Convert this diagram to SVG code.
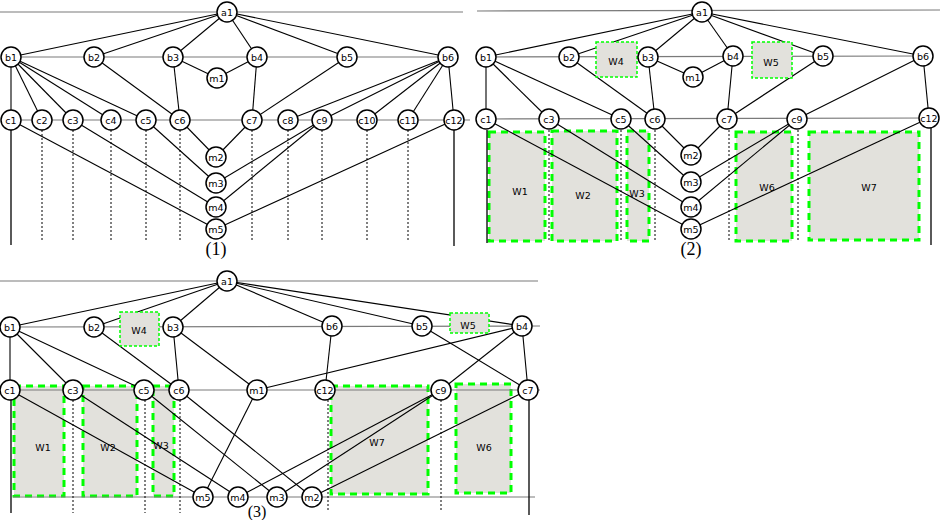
<svg xmlns="http://www.w3.org/2000/svg" width="941" height="520" viewBox="0 0 941 520">
<defs>
<style>
.bg{fill:#ffffff}
.hl{stroke:#7a7a7a;stroke-width:1.2;fill:none}
.e{stroke:#000;stroke-width:1.1;fill:none}
.v{stroke:#000;stroke-width:1.3;fill:none}
.d{stroke:#000;stroke-width:1;stroke-dasharray:2,2;fill:none}
.n circle{fill:#fff;stroke:#000;stroke-width:1.5}
.n text{font-family:"DejaVu Sans",sans-serif;font-size:9.5px;text-anchor:middle;dominant-baseline:central;fill:#000}
.w rect{fill:#e2e1dc;stroke:#00ff00}
.wb rect{stroke-width:3;stroke-dasharray:7,5}
.ws rect{stroke-width:1.5;stroke-dasharray:3,2}
.w text{font-family:"DejaVu Sans",sans-serif;font-size:9.5px;text-anchor:middle;dominant-baseline:central;fill:#000}
.lab{font-family:"Liberation Serif",serif;font-size:18px;text-anchor:middle;fill:#000}
</style>
</defs>
<rect class="bg" x="0" y="0" width="941" height="520"/>

<!-- ================= Panel 1 ================= -->
<g id="p1-connectors">
<line class="hl" x1="0" y1="12" x2="463" y2="12"/>
<line class="hl" x1="11" y1="57" x2="448" y2="57"/>
<line class="hl" x1="11" y1="120" x2="470" y2="120"/>
<line class="v" x1="11" y1="130" x2="11" y2="245"/>
<line class="v" x1="454" y1="130" x2="454" y2="246"/>
<line class="d" x1="42" y1="130" x2="42" y2="242"/>
<line class="d" x1="73" y1="130" x2="73" y2="242"/>
<line class="d" x1="111" y1="130" x2="111" y2="242"/>
<line class="d" x1="146" y1="130" x2="146" y2="242"/>
<line class="d" x1="180" y1="130" x2="180" y2="242"/>
<line class="d" x1="252" y1="130" x2="252" y2="242"/>
<line class="d" x1="288" y1="130" x2="288" y2="242"/>
<line class="d" x1="322" y1="130" x2="322" y2="242"/>
<line class="d" x1="367" y1="130" x2="367" y2="242"/>
<line class="d" x1="408" y1="130" x2="408" y2="242"/>
<line class="e" x1="227" y1="12" x2="11" y2="57"/>
<line class="e" x1="227" y1="12" x2="94" y2="57"/>
<line class="e" x1="227" y1="12" x2="173" y2="57"/>
<line class="e" x1="227" y1="12" x2="257" y2="57"/>
<line class="e" x1="227" y1="12" x2="347" y2="57"/>
<line class="e" x1="227" y1="12" x2="448" y2="57"/>
<line class="e" x1="11" y1="57" x2="11" y2="120"/>
<line class="e" x1="11" y1="57" x2="42" y2="120"/>
<line class="e" x1="11" y1="57" x2="73" y2="120"/>
<line class="e" x1="11" y1="57" x2="111" y2="120"/>
<line class="e" x1="11" y1="57" x2="146" y2="120"/>
<line class="e" x1="94" y1="57" x2="180" y2="120"/>
<line class="e" x1="173" y1="57" x2="180" y2="120"/>
<line class="e" x1="173" y1="57" x2="217" y2="78"/>
<line class="e" x1="257" y1="57" x2="217" y2="78"/>
<line class="e" x1="257" y1="57" x2="252" y2="120"/>
<line class="e" x1="347" y1="57" x2="252" y2="120"/>
<line class="e" x1="448" y1="57" x2="288" y2="120"/>
<line class="e" x1="448" y1="57" x2="322" y2="120"/>
<line class="e" x1="448" y1="57" x2="367" y2="120"/>
<line class="e" x1="448" y1="57" x2="408" y2="120"/>
<line class="e" x1="448" y1="57" x2="454" y2="120"/>
<line class="e" x1="180" y1="120" x2="216" y2="157"/>
<line class="e" x1="252" y1="120" x2="216" y2="157"/>
<line class="e" x1="146" y1="120" x2="216" y2="183"/>
<line class="e" x1="322" y1="120" x2="216" y2="183"/>
<line class="e" x1="73" y1="120" x2="216" y2="207"/>
<line class="e" x1="322" y1="120" x2="216" y2="207"/>
<line class="e" x1="11" y1="120" x2="216" y2="229"/>
<line class="e" x1="454" y1="120" x2="216" y2="229"/>
</g>
<g id="p1-a1" class="n"><circle cx="227" cy="12" r="10"/><text x="227" y="12">a1</text></g>
<g id="p1-b1" class="n"><circle cx="11" cy="57" r="10"/><text x="11" y="57">b1</text></g>
<g id="p1-b2" class="n"><circle cx="94" cy="57" r="10"/><text x="94" y="57">b2</text></g>
<g id="p1-b3" class="n"><circle cx="173" cy="57" r="10"/><text x="173" y="57">b3</text></g>
<g id="p1-b4" class="n"><circle cx="257" cy="57" r="10"/><text x="257" y="57">b4</text></g>
<g id="p1-b5" class="n"><circle cx="347" cy="57" r="10"/><text x="347" y="57">b5</text></g>
<g id="p1-b6" class="n"><circle cx="448" cy="57" r="10"/><text x="448" y="57">b6</text></g>
<g id="p1-m1" class="n"><circle cx="217" cy="78" r="10"/><text x="217" y="78">m1</text></g>
<g id="p1-c1" class="n"><circle cx="11" cy="120" r="10"/><text x="11" y="120">c1</text></g>
<g id="p1-c2" class="n"><circle cx="42" cy="120" r="10"/><text x="42" y="120">c2</text></g>
<g id="p1-c3" class="n"><circle cx="73" cy="120" r="10"/><text x="73" y="120">c3</text></g>
<g id="p1-c4" class="n"><circle cx="111" cy="120" r="10"/><text x="111" y="120">c4</text></g>
<g id="p1-c5" class="n"><circle cx="146" cy="120" r="10"/><text x="146" y="120">c5</text></g>
<g id="p1-c6" class="n"><circle cx="180" cy="120" r="10"/><text x="180" y="120">c6</text></g>
<g id="p1-c7" class="n"><circle cx="252" cy="120" r="10"/><text x="252" y="120">c7</text></g>
<g id="p1-c8" class="n"><circle cx="288" cy="120" r="10"/><text x="288" y="120">c8</text></g>
<g id="p1-c9" class="n"><circle cx="322" cy="120" r="10"/><text x="322" y="120">c9</text></g>
<g id="p1-c10" class="n"><circle cx="367" cy="120" r="10"/><text x="367" y="120">c10</text></g>
<g id="p1-c11" class="n"><circle cx="408" cy="120" r="10"/><text x="408" y="120">c11</text></g>
<g id="p1-c12" class="n"><circle cx="454" cy="120" r="10"/><text x="454" y="120">c12</text></g>
<g id="p1-m2" class="n"><circle cx="216" cy="157" r="10"/><text x="216" y="157">m2</text></g>
<g id="p1-m3" class="n"><circle cx="216" cy="183" r="10"/><text x="216" y="183">m3</text></g>
<g id="p1-m4" class="n"><circle cx="216" cy="207" r="10"/><text x="216" y="207">m4</text></g>
<g id="p1-m5" class="n"><circle cx="216" cy="229" r="10"/><text x="216" y="229">m5</text></g>
<text class="lab" x="216" y="255">(1)</text>

<!-- ================= Panel 2 ================= -->
<g id="p2-W1" class="w wb"><rect x="489" y="132" width="56" height="109"/><text x="520" y="191">W1</text></g>
<g id="p2-W2" class="w wb"><rect x="552" y="131" width="65" height="110"/><text x="583" y="195">W2</text></g>
<g id="p2-W3" class="w wb"><rect x="627" y="131" width="22" height="110"/><text x="637" y="193">W3</text></g>
<g id="p2-W6" class="w wb"><rect x="736" y="132" width="56" height="109"/><text x="767" y="187">W6</text></g>
<g id="p2-W7" class="w wb"><rect x="809" y="132" width="110" height="108"/><text x="869" y="187">W7</text></g>
<g id="p2-connectors">
<line class="hl" x1="477" y1="11" x2="940" y2="10"/>
<line class="hl" x1="486" y1="57" x2="923" y2="56"/>
<line class="hl" x1="486" y1="119" x2="935" y2="118"/>
<line class="v" x1="487" y1="130" x2="487" y2="243"/>
<line class="v" x1="931" y1="128" x2="931" y2="245"/>
<line class="d" x1="549" y1="130" x2="549" y2="240"/>
<line class="d" x1="621" y1="130" x2="621" y2="240"/>
<line class="d" x1="655" y1="130" x2="655" y2="240"/>
<line class="d" x1="729" y1="130" x2="729" y2="240"/>
<line class="d" x1="798" y1="130" x2="798" y2="240"/>
<line class="e" x1="702" y1="12" x2="486" y2="57"/>
<line class="e" x1="702" y1="12" x2="569" y2="57"/>
<line class="e" x1="702" y1="12" x2="648" y2="57"/>
<line class="e" x1="702" y1="12" x2="733" y2="56"/>
<line class="e" x1="702" y1="12" x2="823" y2="56"/>
<line class="e" x1="702" y1="12" x2="923" y2="56"/>
<line class="e" x1="486" y1="57" x2="486" y2="119"/>
<line class="e" x1="486" y1="57" x2="549" y2="119"/>
<line class="e" x1="486" y1="57" x2="621" y2="119"/>
<line class="e" x1="569" y1="57" x2="655" y2="119"/>
<line class="e" x1="648" y1="57" x2="655" y2="119"/>
<line class="e" x1="648" y1="57" x2="693" y2="77"/>
<line class="e" x1="733" y1="56" x2="693" y2="77"/>
<line class="e" x1="733" y1="56" x2="727" y2="119"/>
<line class="e" x1="823" y1="56" x2="727" y2="119"/>
<line class="e" x1="923" y1="56" x2="797" y2="119"/>
<line class="e" x1="923" y1="56" x2="929" y2="118"/>
<line class="e" x1="655" y1="119" x2="691" y2="155"/>
<line class="e" x1="727" y1="119" x2="691" y2="155"/>
<line class="e" x1="621" y1="119" x2="691" y2="182"/>
<line class="e" x1="797" y1="119" x2="691" y2="182"/>
<line class="e" x1="549" y1="119" x2="691" y2="207"/>
<line class="e" x1="797" y1="119" x2="691" y2="207"/>
<line class="e" x1="486" y1="119" x2="691" y2="229"/>
<line class="e" x1="929" y1="118" x2="691" y2="229"/>
</g>
<g id="p2-W4" class="w ws"><rect x="596" y="42" width="41" height="35"/><text x="616" y="61">W4</text></g>
<g id="p2-W5" class="w ws"><rect x="752" y="42" width="40" height="36"/><text x="771" y="62">W5</text></g>
<g id="p2-a1" class="n"><circle cx="702" cy="12" r="10"/><text x="702" y="12">a1</text></g>
<g id="p2-b1" class="n"><circle cx="486" cy="57" r="10"/><text x="486" y="57">b1</text></g>
<g id="p2-b2" class="n"><circle cx="569" cy="57" r="10"/><text x="569" y="57">b2</text></g>
<g id="p2-b3" class="n"><circle cx="648" cy="57" r="10"/><text x="648" y="57">b3</text></g>
<g id="p2-b4" class="n"><circle cx="733" cy="56" r="10"/><text x="733" y="56">b4</text></g>
<g id="p2-b5" class="n"><circle cx="823" cy="56" r="10"/><text x="823" y="56">b5</text></g>
<g id="p2-b6" class="n"><circle cx="923" cy="56" r="10"/><text x="923" y="56">b6</text></g>
<g id="p2-m1" class="n"><circle cx="693" cy="77" r="10"/><text x="693" y="77">m1</text></g>
<g id="p2-c1" class="n"><circle cx="486" cy="119" r="10"/><text x="486" y="119">c1</text></g>
<g id="p2-c3" class="n"><circle cx="549" cy="119" r="10"/><text x="549" y="119">c3</text></g>
<g id="p2-c5" class="n"><circle cx="621" cy="119" r="10"/><text x="621" y="119">c5</text></g>
<g id="p2-c6" class="n"><circle cx="655" cy="119" r="10"/><text x="655" y="119">c6</text></g>
<g id="p2-c7" class="n"><circle cx="727" cy="119" r="10"/><text x="727" y="119">c7</text></g>
<g id="p2-c9" class="n"><circle cx="797" cy="119" r="10"/><text x="797" y="119">c9</text></g>
<g id="p2-c12" class="n"><circle cx="929" cy="118" r="10"/><text x="929" y="118">c12</text></g>
<g id="p2-m2" class="n"><circle cx="691" cy="155" r="10"/><text x="691" y="155">m2</text></g>
<g id="p2-m3" class="n"><circle cx="691" cy="182" r="10"/><text x="691" y="182">m3</text></g>
<g id="p2-m4" class="n"><circle cx="691" cy="207" r="10"/><text x="691" y="207">m4</text></g>
<g id="p2-m5" class="n"><circle cx="691" cy="229" r="10"/><text x="691" y="229">m5</text></g>
<text class="lab" x="691" y="255">(2)</text>

<!-- ================= Panel 3 ================= -->
<g id="p3-W1" class="w wb"><rect x="14" y="386" width="50" height="110"/><text x="43" y="447">W1</text></g>
<g id="p3-W2" class="w wb"><rect x="83" y="386" width="54" height="110"/><text x="108" y="447">W2</text></g>
<g id="p3-W3" class="w wb"><rect x="153" y="386" width="21" height="110"/><text x="161" y="445">W3</text></g>
<g id="p3-W7" class="w wb"><rect x="331" y="386" width="97" height="108"/><text x="377" y="442">W7</text></g>
<g id="p3-W6" class="w wb"><rect x="456" y="384" width="55" height="109"/><text x="484" y="447">W6</text></g>
<g id="p3-connectors">
<line class="hl" x1="0" y1="281" x2="538" y2="281"/>
<line class="hl" x1="10" y1="327" x2="540" y2="326"/>
<line class="hl" x1="10" y1="390" x2="540" y2="390"/>
<line class="hl" x1="13" y1="497" x2="535" y2="497"/>
<line class="v" x1="11" y1="400" x2="11" y2="513"/>
<line class="v" x1="529" y1="400" x2="529" y2="515"/>
<line class="d" x1="73" y1="400" x2="73" y2="513"/>
<line class="d" x1="145" y1="400" x2="145" y2="513"/>
<line class="d" x1="180" y1="400" x2="180" y2="513"/>
<line class="d" x1="328" y1="400" x2="328" y2="510"/>
<line class="d" x1="441" y1="400" x2="441" y2="510"/>
<line class="e" x1="227" y1="281" x2="10" y2="327"/>
<line class="e" x1="227" y1="281" x2="94" y2="327"/>
<line class="e" x1="227" y1="281" x2="173" y2="327"/>
<line class="e" x1="227" y1="281" x2="332" y2="326"/>
<line class="e" x1="227" y1="281" x2="422" y2="326"/>
<line class="e" x1="227" y1="281" x2="522" y2="326"/>
<line class="e" x1="10" y1="327" x2="10" y2="390"/>
<line class="e" x1="10" y1="327" x2="73" y2="390"/>
<line class="e" x1="10" y1="327" x2="144" y2="390"/>
<line class="e" x1="94" y1="327" x2="179" y2="390"/>
<line class="e" x1="173" y1="327" x2="179" y2="390"/>
<line class="e" x1="173" y1="327" x2="257" y2="390"/>
<line class="e" x1="332" y1="326" x2="325" y2="390"/>
<line class="e" x1="522" y1="326" x2="257" y2="390"/>
<line class="e" x1="522" y1="326" x2="441" y2="390"/>
<line class="e" x1="522" y1="326" x2="528" y2="390"/>
<line class="e" x1="422" y1="326" x2="528" y2="390"/>
<line class="e" x1="10" y1="390" x2="203" y2="497"/>
<line class="e" x1="73" y1="390" x2="238" y2="497"/>
<line class="e" x1="144" y1="390" x2="277" y2="497"/>
<line class="e" x1="179" y1="390" x2="312" y2="497"/>
<line class="e" x1="257" y1="390" x2="203" y2="497"/>
<line class="e" x1="441" y1="390" x2="238" y2="497"/>
<line class="e" x1="441" y1="390" x2="277" y2="497"/>
<line class="e" x1="528" y1="390" x2="312" y2="497"/>
</g>
<g id="p3-W4" class="w ws"><rect x="120" y="312" width="39" height="34"/><text x="139" y="330">W4</text></g>
<g id="p3-W5" class="w ws"><rect x="450" y="313" width="39" height="20"/><text x="468" y="325">W5</text></g>
<g id="p3-a1" class="n"><circle cx="227" cy="281" r="10"/><text x="227" y="281">a1</text></g>
<g id="p3-b1" class="n"><circle cx="10" cy="327" r="10"/><text x="10" y="327">b1</text></g>
<g id="p3-b2" class="n"><circle cx="94" cy="327" r="10"/><text x="94" y="327">b2</text></g>
<g id="p3-b3" class="n"><circle cx="173" cy="327" r="10"/><text x="173" y="327">b3</text></g>
<g id="p3-b6" class="n"><circle cx="332" cy="326" r="10"/><text x="332" y="326">b6</text></g>
<g id="p3-b5" class="n"><circle cx="422" cy="326" r="10"/><text x="422" y="326">b5</text></g>
<g id="p3-b4" class="n"><circle cx="522" cy="326" r="10"/><text x="522" y="326">b4</text></g>
<g id="p3-c1" class="n"><circle cx="10" cy="390" r="10"/><text x="10" y="390">c1</text></g>
<g id="p3-c3" class="n"><circle cx="73" cy="390" r="10"/><text x="73" y="390">c3</text></g>
<g id="p3-c5" class="n"><circle cx="144" cy="390" r="10"/><text x="144" y="390">c5</text></g>
<g id="p3-c6" class="n"><circle cx="179" cy="390" r="10"/><text x="179" y="390">c6</text></g>
<g id="p3-m1" class="n"><circle cx="257" cy="390" r="10"/><text x="257" y="390">m1</text></g>
<g id="p3-c12" class="n"><circle cx="325" cy="390" r="10"/><text x="325" y="390">c12</text></g>
<g id="p3-c9" class="n"><circle cx="441" cy="390" r="10"/><text x="441" y="390">c9</text></g>
<g id="p3-c7" class="n"><circle cx="528" cy="390" r="10"/><text x="528" y="390">c7</text></g>
<g id="p3-m5" class="n"><circle cx="203" cy="497" r="10"/><text x="203" y="497">m5</text></g>
<g id="p3-m4" class="n"><circle cx="238" cy="497" r="10"/><text x="238" y="497">m4</text></g>
<g id="p3-m3" class="n"><circle cx="277" cy="497" r="10"/><text x="277" y="497">m3</text></g>
<g id="p3-m2" class="n"><circle cx="312" cy="497" r="10"/><text x="312" y="497">m2</text></g>
<text class="lab" x="257" y="517" style="font-size:16px">(3)</text>
</svg>
